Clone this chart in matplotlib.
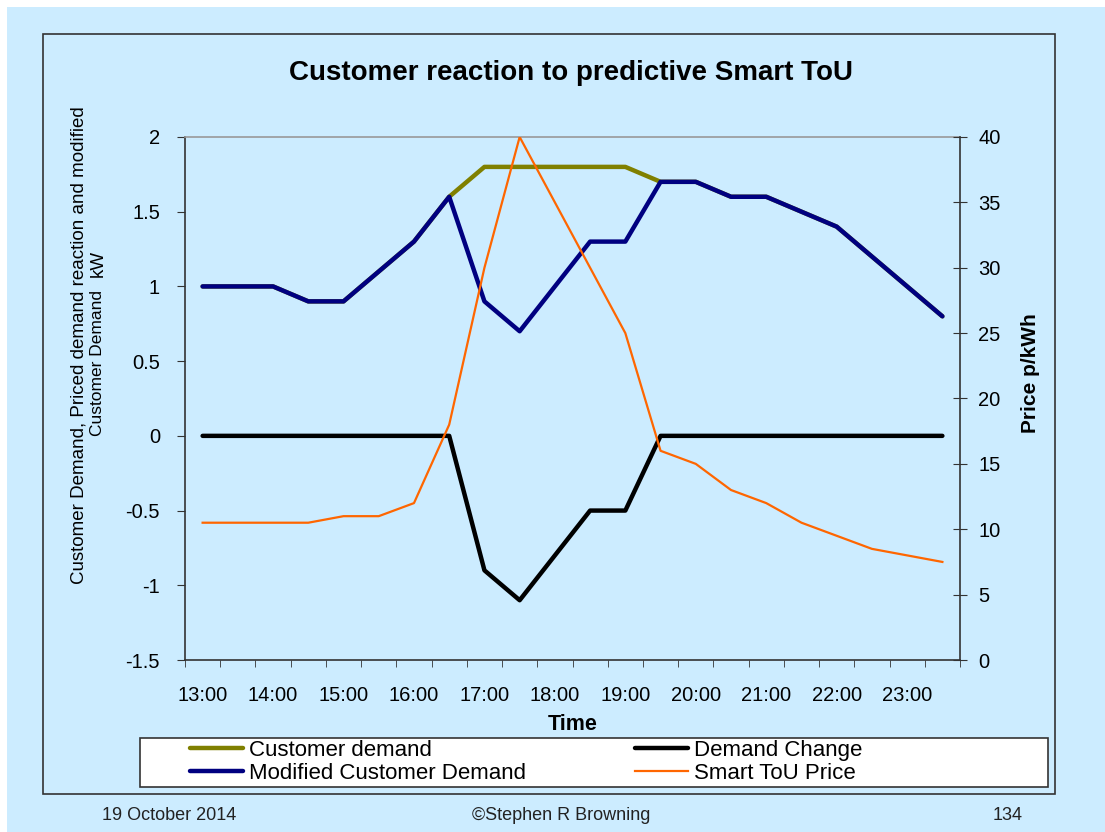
import matplotlib
matplotlib.use("Agg")
import matplotlib.pyplot as plt
from matplotlib.patches import Rectangle

plt.rcParams['font.family'] = ['Liberation Sans', 'DejaVu Sans']

# half-hourly slots 13:00 .. 23:30
times = ["13:00", "13:30", "14:00", "14:30", "15:00", "15:30", "16:00", "16:30",
         "17:00", "17:30", "18:00", "18:30", "19:00", "19:30", "20:00", "20:30",
         "21:00", "21:30", "22:00", "22:30", "23:00", "23:30"]
customer_demand = [1.0, 1.0, 1.0, 0.9, 0.9, 1.1, 1.3, 1.6, 1.8, 1.8, 1.8,
                   1.8, 1.8, 1.7, 1.7, 1.6, 1.6, 1.5, 1.4, 1.2, 1.0, 0.8]
demand_change = [0, 0, 0, 0, 0, 0, 0, 0, -0.9, -1.1, -0.8,
                 -0.5, -0.5, 0, 0, 0, 0, 0, 0, 0, 0, 0]
modified_demand = [1.0, 1.0, 1.0, 0.9, 0.9, 1.1, 1.3, 1.6, 0.9, 0.7, 1.0,
                   1.3, 1.3, 1.7, 1.7, 1.6, 1.6, 1.5, 1.4, 1.2, 1.0, 0.8]
tou_price = [10.5, 10.5, 10.5, 10.5, 11, 11, 12, 18, 30, 40, 35,
             30, 25, 16, 15, 13, 12, 10.5, 9.5, 8.5, 8, 7.5]

W, H = 1105, 832
BG = '#CCECFF'

fig = plt.figure(figsize=(W / 100, H / 100), dpi=100)
fig.patch.set_facecolor('white')

def fx(px):
    return px / W

def fy(py):
    return 1 - py / H

# slide background and chart frame
fig.patches.append(Rectangle((fx(7), 0), 1 - fx(7), fy(7), transform=fig.transFigure,
                             facecolor=BG, edgecolor='none', zorder=-3))
fig.patches.append(Rectangle((fx(43), fy(794)), fx(1055) - fx(43), fy(34) - fy(794),
                             transform=fig.transFigure, facecolor='none',
                             edgecolor='#333333', linewidth=1.2, zorder=-2))

ax = fig.add_axes([fx(185), fy(660), fx(960) - fx(185), fy(137) - fy(660)])
ax.set_facecolor(BG)
x = list(range(len(times)))

l_cust, = ax.plot(x, customer_demand, color='#808000', lw=3.2, label='Customer demand',
                  solid_capstyle='round', solid_joinstyle='round')
l_chg, = ax.plot(x, demand_change, color='black', lw=3.2, label='Demand Change',
                 solid_capstyle='round', solid_joinstyle='round')
l_mod, = ax.plot(x, modified_demand, color='#000080', lw=3.2, label='Modified Customer Demand',
                 solid_capstyle='round', solid_joinstyle='round')

ax.set_xlim(-0.5, len(times) - 0.5)
ax.set_ylim(-1.5, 2)
ax.set_yticks([-1.5, -1, -0.5, 0, 0.5, 1, 1.5, 2])
ax.set_yticklabels(['-1.5', '-1', '-0.5', '0', '0.5', '1', '1.5', '2'])
ax.set_xticks(x[::2])
ax.set_xticklabels(times[::2])
ax.set_xticks([i - 0.5 for i in range(len(times) + 1)], minor=True)
ax.tick_params(axis='x', which='major', length=0, pad=19, labelsize=14.5)
ax.tick_params(axis='x', which='minor', length=5, direction='out', color='#333333')
ax.tick_params(axis='y', length=6, direction='out', labelsize=14.5, pad=12, color='#333333')

ax.spines['top'].set_color('#999999')
ax.spines['bottom'].set_color('#333333')
ax.spines['left'].set_color('#333333')
ax.spines['right'].set_visible(False)
for s in ax.spines.values():
    s.set_linewidth(1.2)

ax.set_xlabel('Time', fontsize=15.5, fontweight='bold', labelpad=6)

ax2 = ax.twinx()
l_price, = ax2.plot(x, tou_price, color='#FF6600', lw=1.6, label='Smart ToU Price')
ax2.set_ylim(0, 40)
ax2.set_yticks(range(0, 41, 5))
ax2.tick_params(axis='y', length=10, direction='inout', labelsize=14.5, pad=8, color='#333333')
ax2.spines['right'].set_color('#333333')
ax2.spines['right'].set_linewidth(1.2)
for s in ['top', 'left', 'bottom']:
    ax2.spines[s].set_visible(False)

fig.text(fx(1030), fy(373), 'Price p/kWh', rotation=90, ha='center', va='center',
         fontsize=15, fontweight='bold')

fig.text(fx(571), fy(73), 'Customer reaction to predictive Smart ToU',
         ha='center', va='center', fontsize=20, fontweight='bold')

fig.text(fx(79), fy(345), 'Customer Demand, Priced demand reaction and modified',
         rotation=90, ha='center', va='center', fontsize=13.5)
fig.text(fx(98), fy(363), 'Customer Demand', rotation=90, ha='center', va='center',
         fontsize=12.5)
fig.text(fx(98), fy(263), 'kW', rotation=90, ha='center', va='center', fontsize=13.5)

# legend box
fig.patches.append(Rectangle((fx(140), fy(787)), fx(1048) - fx(140), fy(738) - fy(787),
                             transform=fig.transFigure, facecolor='white',
                             edgecolor='#333333', linewidth=1.2, zorder=1))
handles = [l_cust, l_mod, l_chg, l_price]
labels = [h.get_label() for h in handles]
leg = fig.legend(handles, labels, ncol=2, loc='upper left',
                 bbox_to_anchor=(fx(190), fy(740)), frameon=False, fontsize=16,
                 handlelength=2.4, handletextpad=0.25, columnspacing=4.9,
                 labelspacing=0.1, borderpad=0.0, borderaxespad=0)
leg.set_zorder(2)

fig.text(fx(102), fy(816), '19 October 2014', ha='left', va='center', fontsize=13, color='#222222')
fig.text(fx(561), fy(816), '\u00a9Stephen R Browning', ha='center', va='center', fontsize=13, color='#222222')
fig.text(fx(1008), fy(816), '134', ha='center', va='center', fontsize=13, color='#222222')

fig.savefig('out.png', dpi=100, facecolor=fig.get_facecolor())
